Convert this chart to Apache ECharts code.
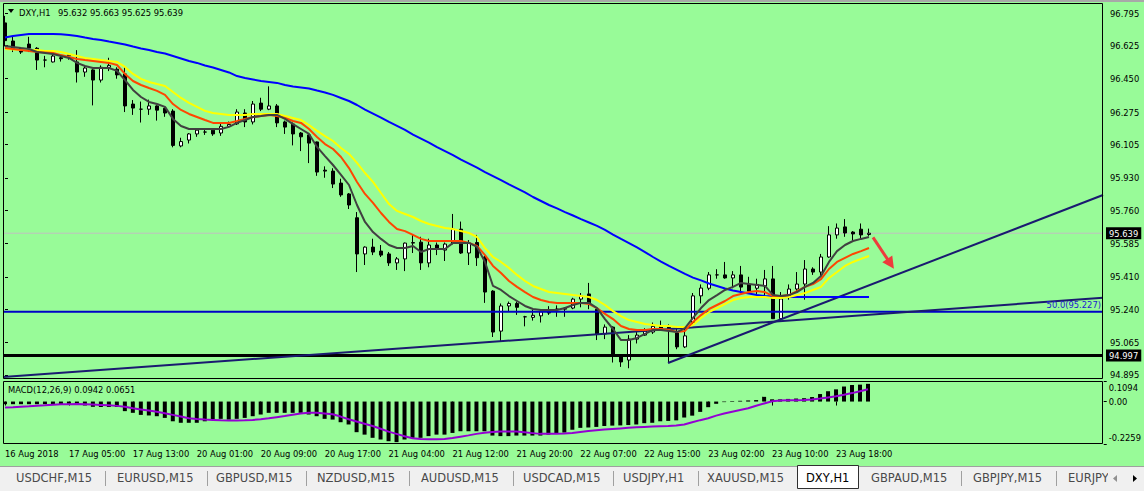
<!DOCTYPE html>
<html>
<head>
<meta charset="utf-8">
<script src="https://cdn.jsdelivr.net/npm/echarts/dist/echarts.min.js"></script>
<style>
html,body{margin:0;padding:0;background:#98FB98;}
#chart{width:1144px;height:491px;}
</style>
</head>
<body>
<div id="chart"></div>
<script>
// ---------------- DATA ----------------
const symbolTitle = 'DXY,H1';
const lastQuote = '95.632 95.663 95.625 95.639';
const macdTitle = 'MACD(12,26,9) 0.0942 0.0651';

// trading sessions per day: [day label, first hour, last hour]
const sessions = [['16 Aug',18,20],['17 Aug',0,20],['20 Aug',1,20],['21 Aug',0,20],['22 Aug',0,20],['23 Aug',0,20],['24 Aug',0,1]];
const firstLabel = '16 Aug 2018';

// OHLC rows: [open, high, low, close]
const ohlc = [
[96.743,96.78,96.62,96.65],[96.648,96.67,96.59,96.61],[96.61,96.615,96.58,96.59],[96.632,96.67,96.59,96.611],[96.61,96.616,96.496,96.548],
[96.548,96.57,96.51,96.548],[96.538,96.58,96.535,96.569],[96.56,96.57,96.54,96.555],[96.57,96.585,96.55,96.575],[96.538,96.60,96.43,96.485],
[96.485,96.52,96.46,96.506],[96.496,96.50,96.31,96.443],[96.443,96.52,96.43,96.51],[96.51,96.56,96.49,96.52],[96.50,96.51,96.45,96.47],
[96.475,96.51,96.275,96.307],[96.317,96.338,96.26,96.296],[96.29,96.33,96.22,96.29],[96.29,96.34,96.26,96.307],[96.307,96.31,96.23,96.285],
[96.295,96.30,96.25,96.27],[96.28,96.29,96.09,96.10],[96.097,96.14,96.09,96.12],[96.128,96.165,96.11,96.16],[96.16,96.19,96.145,96.18],
[96.17,96.19,96.155,96.17],[96.18,96.19,96.15,96.16],[96.165,96.215,96.15,96.2],[96.20,96.225,96.195,96.21],[96.213,96.29,96.207,96.275],
[96.27,96.29,96.196,96.223],[96.223,96.333,96.21,96.317],[96.322,96.35,96.28,96.29],[96.29,96.41,96.285,96.307],[96.307,96.317,96.196,96.218],
[96.223,96.23,96.16,96.196],[96.212,96.22,96.10,96.16],[96.165,96.17,96.07,96.145],[96.155,96.16,96.007,96.112],[96.118,96.12,95.94,95.96],
[95.97,95.99,95.93,95.965],[95.965,95.98,95.876,95.897],[95.902,95.925,95.83,95.84],[95.845,95.85,95.766,95.787],[95.72,95.75,95.435,95.53],
[95.53,95.57,95.472,95.566],[95.566,95.61,95.524,95.54],[95.545,95.577,95.514,95.524],[95.53,95.54,95.467,95.483],[95.483,95.514,95.446,95.504],
[95.504,95.59,95.44,95.587],[95.587,95.63,95.535,95.59],[95.592,95.62,95.446,95.483],[95.483,95.61,95.46,95.577],[95.577,95.59,95.524,95.556],
[95.55,95.59,95.493,95.582],[95.587,95.74,95.58,95.66],[95.66,95.70,95.53,95.535],[95.535,95.603,95.472,95.587],[95.59,95.63,95.467,95.51],
[95.514,95.52,95.273,95.33],[95.335,95.34,95.094,95.12],[95.125,95.27,95.073,95.257],[95.257,95.28,95.23,95.27],[95.27,95.28,95.21,95.25],
[95.2,95.205,95.15,95.2],[95.197,95.236,95.18,95.208],[95.205,95.236,95.17,95.226],[95.23,95.256,95.21,95.22],[95.24,95.26,95.2,95.24],
[95.24,95.25,95.2,95.245],[95.246,95.3,95.24,95.293],[95.293,95.325,95.25,95.31],[95.32,95.378,95.24,95.27],[95.24,95.24,95.078,95.11],
[95.11,95.16,95.083,95.146],[95.146,95.15,94.96,95.0],[95.0,95.0,94.937,94.963],[94.973,95.104,94.93,95.083],[95.083,95.12,95.06,95.104],
[95.104,95.14,95.1,95.125],[95.12,95.17,95.11,95.15],[95.153,95.18,95.13,95.136],[95.146,95.16,94.96,95.136],[95.115,95.15,95.03,95.042],
[95.042,95.15,95.036,95.1],[95.17,95.325,95.16,95.31],[95.31,95.37,95.27,95.351],[95.35,95.435,95.34,95.42],[95.42,95.45,95.4,95.42],
[95.42,95.488,95.4,95.404],[95.404,95.44,95.35,95.42],[95.42,95.467,95.325,95.356],[95.372,95.41,95.32,95.335],[95.35,95.40,95.32,95.37],
[95.362,95.446,95.3,95.399],[95.399,95.467,95.19,95.19],[95.19,95.33,95.18,95.294],[95.31,95.37,95.29,95.346],[95.346,95.435,95.336,95.372],
[95.372,95.498,95.29,95.451],[95.451,95.46,95.42,95.435],[95.435,95.53,95.41,95.514],[95.514,95.676,95.51,95.63],[95.63,95.69,95.61,95.666],
[95.672,95.713,95.62,95.64],[95.645,95.65,95.6,95.635],[95.66,95.69,95.61,95.63],[95.632,95.663,95.625,95.639]
];

const maBlue = [
96.666,96.674,96.680,96.685,96.685,96.685,96.685,96.683,96.680,96.674,
96.666,96.659,96.653,96.645,96.638,96.630,96.619,96.609,96.601,96.590,
96.582,96.569,96.556,96.543,96.533,96.519,96.509,96.496,96.483,96.464,
96.454,96.446,96.438,96.433,96.428,96.417,96.409,96.404,96.399,96.388,
96.378,96.365,96.349,96.333,96.312,96.288,96.267,96.246,96.223,96.202,
96.181,96.157,96.136,96.115,96.091,96.070,96.049,96.025,96.004,95.983,
95.960,95.939,95.918,95.895,95.874,95.853,95.829,95.808,95.787,95.769,
95.750,95.732,95.713,95.695,95.677,95.656,95.632,95.609,95.587,95.564,
95.540,95.514,95.490,95.467,95.446,95.425,95.406,95.391,95.375,95.362,
95.349,95.338,95.330,95.322,95.315,95.309,95.307,95.304,95.304,95.304,
95.304,95.304,95.304,95.304,95.304,95.304,95.304,95.304,95.304];

const maGray = [
96.622,96.617,96.611,96.606,96.590,96.585,96.580,96.569,96.559,96.533,
96.517,96.506,96.506,96.506,96.491,96.443,96.391,96.354,96.328,96.317,
96.302,96.239,96.202,96.186,96.186,96.186,96.186,96.186,96.197,96.218,
96.233,96.249,96.254,96.260,96.260,96.239,96.212,96.186,96.160,96.092,
96.044,95.997,95.945,95.892,95.787,95.698,95.645,95.609,95.577,95.561,
95.561,95.572,95.540,95.556,95.556,95.556,95.588,95.588,95.588,95.567,
95.488,95.362,95.341,95.309,95.283,95.257,95.241,95.236,95.236,95.236,
95.246,95.262,95.273,95.273,95.246,95.188,95.136,95.078,95.078,95.089,
95.110,95.131,95.131,95.126,95.120,95.141,95.194,95.246,95.288,95.314,
95.341,95.357,95.378,95.372,95.367,95.362,95.314,95.309,95.314,95.330,
95.357,95.378,95.414,95.488,95.545,95.577,95.598,95.609,95.619];

const maOrange = [
96.611,96.606,96.601,96.595,96.590,96.588,96.585,96.574,96.564,96.554,
96.548,96.543,96.538,96.533,96.522,96.475,96.438,96.417,96.401,96.386,
96.365,96.317,96.286,96.265,96.249,96.233,96.218,96.218,96.218,96.228,
96.239,96.249,96.254,96.260,96.254,96.244,96.228,96.218,96.186,96.144,
96.107,96.081,96.039,95.981,95.908,95.845,95.798,95.745,95.698,95.661,
95.650,95.630,95.609,95.598,95.598,95.598,95.598,95.598,95.588,95.572,
95.524,95.467,95.430,95.388,95.357,95.330,95.304,95.288,95.278,95.273,
95.273,95.273,95.273,95.267,95.246,95.215,95.188,95.152,95.136,95.131,
95.131,95.136,95.136,95.131,95.120,95.126,95.173,95.209,95.241,95.262,
95.283,95.309,95.320,95.330,95.335,95.330,95.309,95.309,95.314,95.335,
95.357,95.372,95.398,95.451,95.488,95.509,95.530,95.545,95.561];

const maYellow = [
96.606,96.603,96.601,96.601,96.601,96.595,96.595,96.590,96.580,96.569,
96.559,96.554,96.548,96.543,96.538,96.512,96.475,96.449,96.433,96.422,
96.412,96.380,96.349,96.323,96.302,96.281,96.270,96.265,96.260,96.260,
96.260,96.265,96.265,96.265,96.265,96.254,96.244,96.233,96.207,96.176,
96.149,96.123,96.086,96.055,96.008,95.955,95.908,95.850,95.792,95.756,
95.740,95.724,95.703,95.687,95.677,95.666,95.661,95.650,95.640,95.619,
95.561,95.514,95.488,95.456,95.420,95.388,95.362,95.346,95.330,95.325,
95.320,95.314,95.309,95.304,95.288,95.262,95.230,95.204,95.183,95.173,
95.162,95.157,95.152,95.152,95.147,95.147,95.157,95.194,95.225,95.246,
95.267,95.288,95.299,95.304,95.304,95.304,95.299,95.299,95.304,95.314,
95.325,95.341,95.357,95.404,95.435,95.467,95.488,95.504,95.519];

const macdHist = [
-0.014,-0.014,-0.014,-0.014,-0.014,-0.014,-0.014,-0.014,-0.012,-0.014,
-0.021,-0.028,-0.029,-0.029,-0.029,-0.051,-0.060,-0.071,-0.074,-0.078,
-0.087,-0.105,-0.113,-0.113,-0.113,-0.105,-0.096,-0.092,-0.096,-0.092,
-0.087,-0.078,-0.069,-0.060,-0.060,-0.060,-0.060,-0.060,-0.069,-0.078,
-0.092,-0.096,-0.110,-0.122,-0.163,-0.176,-0.193,-0.202,-0.211,-0.216,
-0.202,-0.193,-0.193,-0.184,-0.176,-0.176,-0.167,-0.158,-0.158,-0.158,
-0.158,-0.181,-0.184,-0.184,-0.181,-0.181,-0.181,-0.181,-0.176,-0.172,
-0.165,-0.150,-0.140,-0.138,-0.135,-0.130,-0.128,-0.127,-0.125,-0.122,
-0.115,-0.113,-0.105,-0.103,-0.100,-0.085,-0.075,-0.055,-0.030,-0.012,
-0.003,0.003,0.004,0.006,0.008,0.025,0.012,0.012,0.014,0.016,
0.018,0.024,0.040,0.055,0.065,0.080,0.088,0.090,0.0942];

const macdSignal = [
-0.032,-0.030,-0.027,-0.025,-0.022,-0.020,-0.017,-0.015,-0.014,-0.013,
-0.014,-0.016,-0.018,-0.020,-0.023,-0.028,-0.036,-0.042,-0.048,-0.054,
-0.062,-0.071,-0.080,-0.089,-0.093,-0.096,-0.098,-0.100,-0.101,-0.101,
-0.100,-0.098,-0.094,-0.089,-0.083,-0.077,-0.070,-0.064,-0.059,-0.059,
-0.063,-0.068,-0.080,-0.094,-0.106,-0.118,-0.130,-0.145,-0.160,-0.172,
-0.185,-0.195,-0.199,-0.200,-0.200,-0.199,-0.194,-0.187,-0.180,-0.172,
-0.166,-0.162,-0.160,-0.159,-0.160,-0.164,-0.168,-0.172,-0.172,-0.172,
-0.170,-0.167,-0.162,-0.157,-0.153,-0.149,-0.146,-0.143,-0.140,-0.137,
-0.135,-0.133,-0.131,-0.130,-0.128,-0.122,-0.110,-0.099,-0.089,-0.075,
-0.064,-0.054,-0.045,-0.036,-0.022,-0.010,0.002,0.005,0.007,0.007,
0.008,0.011,0.016,0.022,0.028,0.036,0.045,0.055,0.0651];

const priceTicks = [96.795,96.625,96.450,96.275,96.105,95.930,95.760,95.585,95.410,95.240,95.065,94.895];
const macdTicks = [0.1094,0,-0.2259];
const priceRange = [94.8735, 96.8475];
const macdRange = [-0.2259, 0.1094];

// drawn objects (bar index, price)
const trendLow = [[-0.25,94.884],[137.25,95.2995]];
const trendUp = [[82.875,94.9575],[137.25,95.8395]];
const fibLevel = 95.227, fibText = '50.0(95.227)';
const supportLevel = 94.997;
const bidLevel = 95.639;
const arrowFrom = [108.5,95.617], arrowTo = [110.7,95.478];

const tabs = ['USDCHF,M15','EURUSD,M15','GBPUSD,M15','NZDUSD,M15','AUDUSD,M15','USDCAD,M15','USDJPY,H1','XAUUSD,M15','DXY,H1','GBPAUD,M15','GBPJPY,M15','EURJPY,H1'];
const activeTab = 'DXY,H1';

// ---------------- BUILD ----------------
const TOTAL_SLOTS = 138;
const times = [];
sessions.forEach(([d,a,b]) => { for (let h=a; h<=b; h++) times.push(d+' '+(h<10?'0':'')+h+':00'); });
const cats = times.slice();
for (let i = times.length; i < TOTAL_SLOTS; i++) cats.push('#'+i);
const xEnd = TOTAL_SLOTS - 0.75;   // right frame edge in bar units
const xStart = -0.25;

const FONT = "'DejaVu Sans Condensed','DejaVu Sans',sans-serif";
const FS = 9.3;

const candleData = ohlc.map(r => [r[0], r[3], r[2], r[1]]);
const seg = (p) => p.map(q => q.slice());

const chart = echarts.init(document.getElementById('chart'), null, {renderer:'svg', width:1144, height:491});

const showIdx = (idx, val) => idx % 8 === 0 && val[0] !== '#';

// tab geometry (layout only)
const tabX = [16,117,216,317,421,523,623,707,806,871,973,1068];
const sepX = [105,207,306,409,513,613,698,961,1056];

const graphics = [
  {type:'rect', shape:{x:0,y:0,width:1144,height:2}, style:{fill:'#a8a8a8'}, z:100},
  {type:'rect', shape:{x:3.5,y:3.5,width:1099,height:375}, style:{fill:'none',stroke:'#000',lineWidth:1}, z:100},
  {type:'rect', shape:{x:3.5,y:381.5,width:1099,height:62}, style:{fill:'none',stroke:'#000',lineWidth:1}, z:100},
  {type:'polygon', shape:{points:[[8,9],[14,9],[11,13]]}, style:{fill:'#000'}, z:100},
  {type:'text', x:19, y:12, style:{text:symbolTitle, fill:'#000', fontSize:FS, fontFamily:FONT, verticalAlign:'middle'}, z:100},
  {type:'text', x:58, y:12, style:{text:lastQuote, fill:'#000', fontSize:FS, fontFamily:FONT, verticalAlign:'middle'}, z:100},
  {type:'text', x:8, y:389, style:{text:macdTitle, fill:'#000', fontSize:FS, fontFamily:FONT, verticalAlign:'middle'}, z:100},
  {type:'rect', shape:{x:0,y:466,width:1144,height:25}, style:{fill:'#f0f0f0'}, z:100},
  {type:'line', shape:{x1:0,y1:466.5,x2:1144,y2:466.5}, style:{stroke:'#a0a0a0',lineWidth:1}, z:101},
];
sepX.forEach(x => graphics.push({type:'line', shape:{x1:x+0.5,y1:471,x2:x+0.5,y2:486}, style:{stroke:'#a0a0a0',lineWidth:1}, z:101}));
graphics.push({type:'rect', shape:{x:797.5,y:465.5,width:61,height:23}, style:{fill:'#ffffff',stroke:'#303030',lineWidth:1}, z:101});
tabs.forEach((t,i) => graphics.push({type:'text', x:tabX[i], y:478, style:{text:t, fill: t===activeTab?'#000':'#4a4a4a', fontSize:11.5, fontFamily:"'DejaVu Sans',sans-serif", verticalAlign:'middle'}, z:102}));
graphics.push({type:'rect', shape:{x:1108,y:467,width:36,height:24}, style:{fill:'#f0f0f0'}, z:103});
graphics.push({type:'polygon', shape:{points:[[1117,475],[1117,482],[1113,478.5]]}, style:{fill:'#909090'}, z:104});
graphics.push({type:'polygon', shape:{points:[[1133,475],[1133,482],[1137,478.5]]}, style:{fill:'#000'}, z:104});

const lineS = (name, data, color, w, z) => ({
  name, type:'line', xAxisIndex:0, yAxisIndex:0, data, showSymbol:false, symbol:'none', silent:true,
  lineStyle:{color, width:w}, z, animation:false
});
const drawS = (name, data, color, w, extra) => Object.assign({
  name, type:'line', xAxisIndex:1, yAxisIndex:0, data, showSymbol:false, symbol:'none', silent:true,
  lineStyle:{color, width:w}, z:3, animation:false
}, extra||{});

const option = {
  backgroundColor:'#98FB98',
  animation:false,
  textStyle:{fontFamily:FONT},
  graphic: graphics,
  grid:[
    {left:1, top:3, width:1104, height:376},
    {left:1, top:381, width:1104, height:63}
  ],
  xAxis:[
    {type:'category', gridIndex:0, data:cats, boundaryGap:true, show:false},
    {type:'value', gridIndex:0, min:-0.5, max:TOTAL_SLOTS-0.5, show:false},
    {type:'category', gridIndex:1, data:cats, boundaryGap:true,
      axisLine:{show:false},
      axisTick:{show:true, alignWithLabel:true, interval:showIdx, length:4, lineStyle:{color:'#000'}},
      axisLabel:{interval:showIdx, align:'left', margin:5, color:'#000', fontSize:FS, fontFamily:FONT,
        formatter:(v, idx) => v[0]==='#' ? '' : (idx===0 ? firstLabel : v)}
    }
  ],
  yAxis:[
    {type:'value', gridIndex:0, position:'right', min:priceRange[0], max:priceRange[1], scale:true,
      axisLine:{show:false}, splitLine:{show:false},
      axisTick:{show:true, customValues:priceTicks, length:3, lineStyle:{color:'#000'}},
      axisLabel:{customValues:priceTicks, margin:5, color:'#000', fontSize:FS, fontFamily:FONT, formatter:v=>v.toFixed(3)}
    },
    {type:'value', gridIndex:1, position:'right', min:macdRange[0], max:macdRange[1],
      axisLine:{show:false}, splitLine:{show:false},
      axisTick:{show:true, customValues:macdTicks, length:3, lineStyle:{color:'#000'}},
      axisLabel:{customValues:macdTicks, margin:5, color:'#000', fontSize:FS, fontFamily:FONT,
        formatter:v => v>0.1 ? '{t|'+v.toFixed(4)+'}' : (v< -0.2 ? '{b|'+v.toFixed(4)+'}' : '0.00'),
        rich:{t:{padding:[12,0,0,0], fontSize:FS, fontFamily:FONT, color:'#000'},
              b:{padding:[0,0,13,0], fontSize:FS, fontFamily:FONT, color:'#000'}}
      }
    }
  ],
  series:[
    drawS('bid', seg([[xStart,bidLevel],[xEnd,bidLevel]]), '#c0c0c0', 1, {
      z:1,
      endLabel:{show:true, formatter:()=>bidLevel.toFixed(3), backgroundColor:'#000', color:'#fff', padding:[2,3,1,3], distance:3, fontSize:FS, fontFamily:FONT}
    }),
    {name:'DXY', type:'candlestick', xAxisIndex:0, yAxisIndex:0, data:candleData, barWidth:4, silent:true, z:2,
      itemStyle:{color:'#ffffff', color0:'#000000', borderColor:'#000000', borderColor0:'#000000', borderWidth:1}},
    lineS('MA blue', maBlue, '#0000ff', 2, 4),
    lineS('MA yellow', maYellow, '#ffff00', 2, 5),
    lineS('MA orange', maOrange, '#ff4500', 2, 6),
    lineS('MA gray', maGray, '#404040', 2, 7),
    drawS('fib', seg([[xStart,fibLevel],[xEnd,fibLevel]]), '#0000c8', 2, {
      markPoint:{silent:true, symbol:'circle', symbolSize:0, animation:false,
        data:[{coord:[137.0, fibLevel], label:{show:true, position:'left', distance:0, offset:[0,-7], formatter:fibText, color:'#2020d0', fontSize:FS, fontFamily:FONT}}]}
    }),
    drawS('support', seg([[xStart,supportLevel],[xEnd,supportLevel]]), '#000000', 3, {
      endLabel:{show:true, formatter:()=>supportLevel.toFixed(3), backgroundColor:'#000', color:'#fff', padding:[2,3,1,3], distance:3, fontSize:FS, fontFamily:FONT}
    }),
    drawS('trend low', seg(trendLow), '#1a1a70', 2),
    drawS('trend up', seg(trendUp), '#1a1a70', 2),
    drawS('arrow', seg([arrowFrom, arrowTo]), 'rgba(0,0,0,0)', 0, {
      z:8,
      markLine:{silent:true, symbol:['none','triangle'], symbolSize:[12,12], animation:false, precision:4,
        lineStyle:{color:'#ee3b3b', width:3, type:'solid', opacity:1}, label:{show:false},
        emphasis:{disabled:true},
        data:[[{coord:arrowFrom},{coord:arrowTo, symbol:'triangle', symbolSize:12}]]}
    }),
    {name:'MACD', type:'bar', xAxisIndex:2, yAxisIndex:1, data:macdHist, barWidth:4, silent:true, itemStyle:{color:'#000'}},
    {name:'Signal', type:'line', xAxisIndex:2, yAxisIndex:1, data:macdSignal, showSymbol:false, symbol:'none', silent:true, lineStyle:{color:'#9400d3', width:2}, z:5}
  ]
};
chart.setOption(option);
</script>
</body>
</html>
